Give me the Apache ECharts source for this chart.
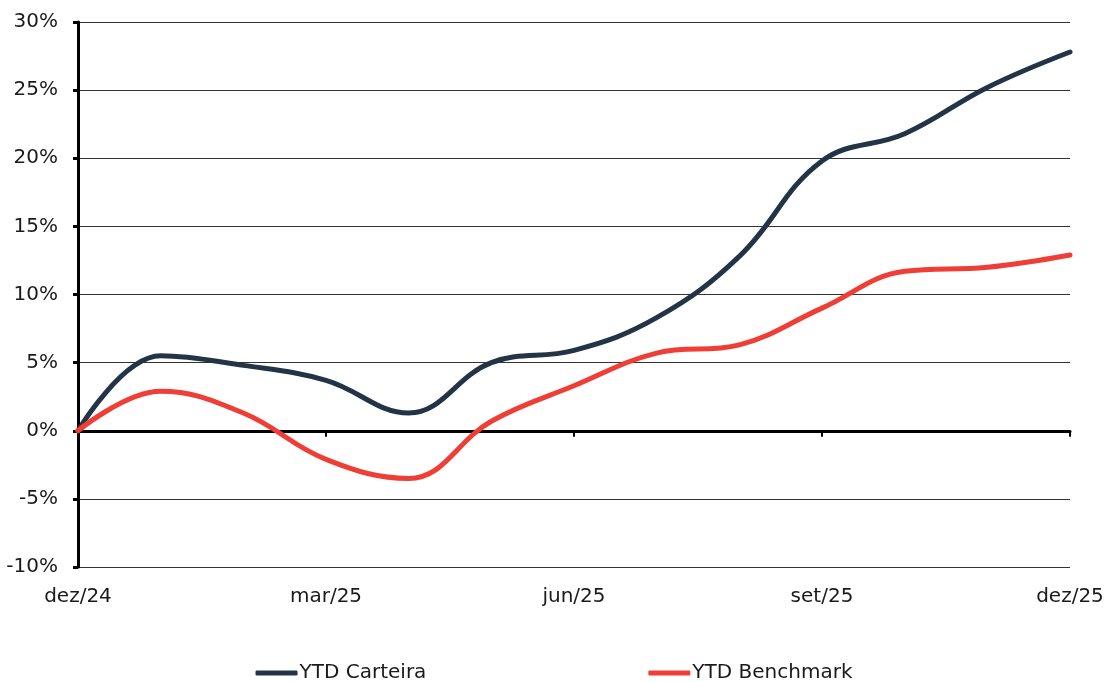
<!DOCTYPE html>
<html>
<head>
<meta charset="utf-8">
<script src="https://cdn.jsdelivr.net/npm/echarts@6/dist/echarts.min.js"></script>
<style>
  html, body { margin: 0; padding: 0; background: #fff; }
  #chart { width: 1108px; height: 682px; }
</style>
</head>
<body>
<div id="chart"></div>
<script>
// meses (dez/24 .. dez/25)
let months = ['dez/24', 'jan/25', 'fev/25', 'mar/25', 'abr/25', 'mai/25', 'jun/25',
              'jul/25', 'ago/25', 'set/25', 'out/25', 'nov/25', 'dez/25'];
let carteira = [0, 5.5, 4.8, 3.7, 1.3, 5.0, 5.9, 8.3, 12.8, 19.8, 21.8, 25.2, 27.8];
let benchmark = [0, 2.9, 1.3, -2.1, -3.5, 0.7, 3.3, 5.7, 6.3, 9.0, 11.7, 12.0, 12.9];
let yTicks = { min: -10, max: 30, step: 5 };

let fontFamily = '"DejaVu Sans", sans-serif';
let chart = echarts.init(document.getElementById('chart'));
let option = {
    animation: false,
    grid: { left: 78, right: 38, top: 22, bottom: 115 },
    legend: {
        bottom: -6,
        left: 'center',
        itemGap: 222,
        itemWidth: 42,
        itemHeight: 5,
        icon: 'roundRect',
        textStyle: { fontFamily: fontFamily, fontSize: 20, color: '#1a1a1a', padding: [0, 0, 0, -3] },
        data: ['YTD Carteira', 'YTD Benchmark']
    },
    xAxis: [
        {
            type: 'category',
            data: months,
            boundaryGap: false,
            axisLine: { onZero: true, lineStyle: { color: '#000', width: 3 } },
            axisTick: { show: true, interval: 2, length: 6, inside: false, lineStyle: { color: '#000', width: 2 } },
            axisLabel: { show: false },
            splitLine: { show: false }
        },
        {
            type: 'category',
            data: months,
            boundaryGap: false,
            position: 'bottom',
            axisLine: { show: false, onZero: false },
            axisTick: { show: false },
            axisLabel: { interval: 2, margin: 20, fontFamily: fontFamily, fontSize: 20, color: '#1a1a1a',
                         alignMinLabel: 'center', alignMaxLabel: 'center' },
            splitLine: { show: false }
        }
    ],
    yAxis: {
        type: 'value',
        min: yTicks.min,
        max: yTicks.max,
        interval: yTicks.step,
        axisLine: { show: true, lineStyle: { color: '#000', width: 3 } },
        axisTick: { show: true, length: 5, lineStyle: { color: '#000', width: 3 } },
        axisLabel: { formatter: '{value}%', margin: 20, fontFamily: fontFamily, fontSize: 20, color: '#1a1a1a' },
        splitLine: { show: true, lineStyle: { color: '#333', width: 1 } }
    },
    series: [
        {
            name: 'YTD Carteira',
            type: 'line',
            data: carteira,
            smooth: 0.4,
            showSymbol: false,
            lineStyle: { color: '#243447', width: 5, cap: 'round' },
            itemStyle: { color: '#243447' }
        },
        {
            name: 'YTD Benchmark',
            type: 'line',
            data: benchmark,
            smooth: 0.4,
            showSymbol: false,
            lineStyle: { color: '#ef3e36', width: 5, cap: 'round' },
            itemStyle: { color: '#ef3e36' }
        }
    ]
};
option && chart.setOption(option);
</script>
</body>
</html>
